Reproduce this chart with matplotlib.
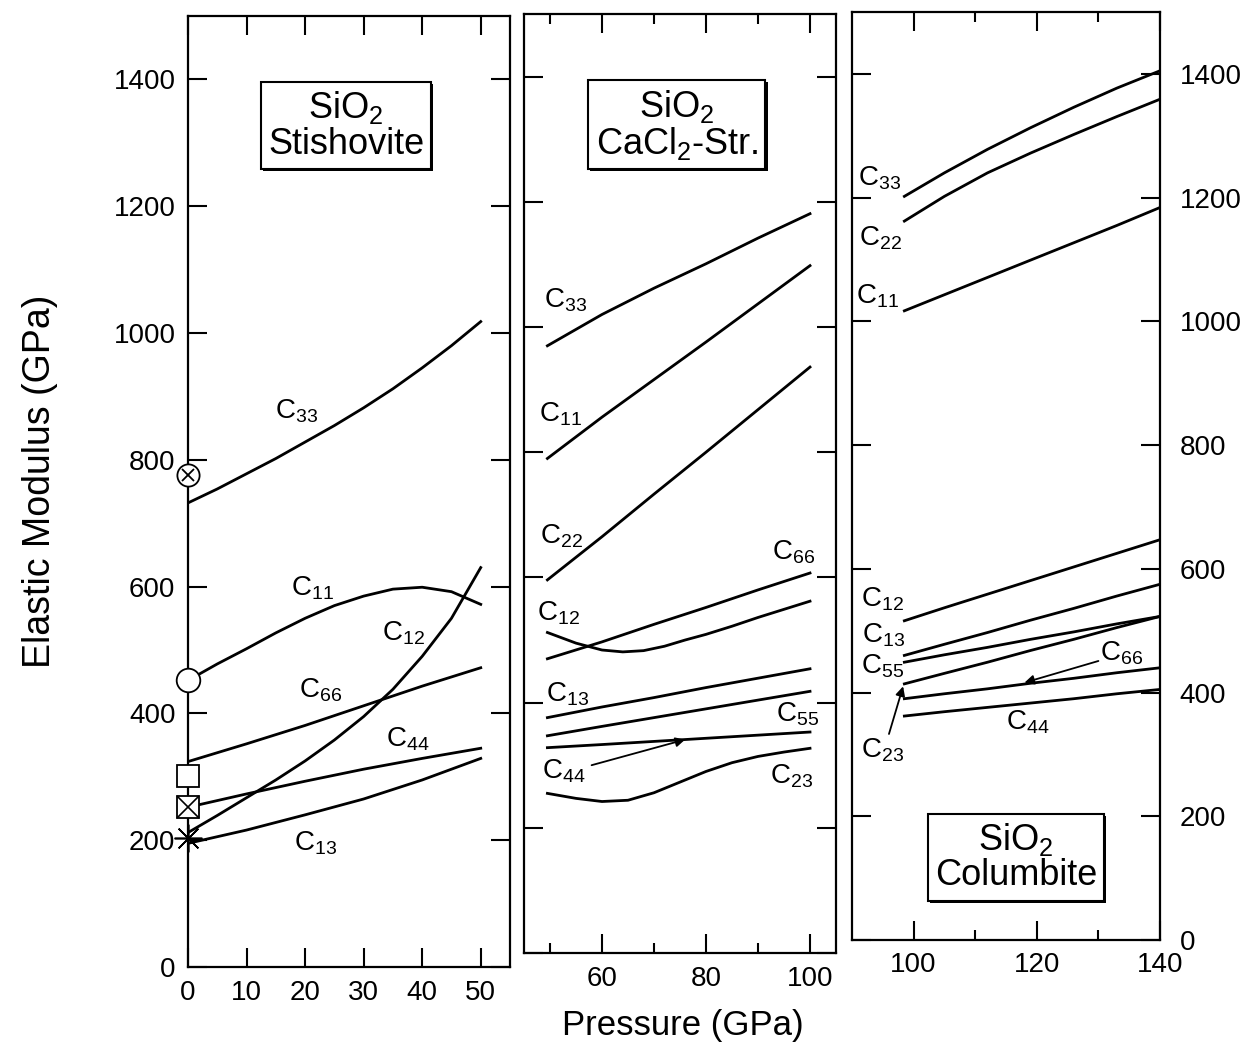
"""Elastic moduli of SiO2 phases vs. pressure (three panels, scanned-figure style)."""

import matplotlib

matplotlib.use("Agg")
import matplotlib.pyplot as plt
import matplotlib.patheffects as pe

plt.rcParams["font.family"] = ["Liberation Sans", "DejaVu Sans"]
plt.rcParams["mathtext.fontset"] = "custom"
plt.rcParams["mathtext.rm"] = "Liberation Sans"
plt.rcParams["mathtext.it"] = "Liberation Sans:italic"
plt.rcParams["mathtext.bf"] = "Liberation Sans:bold"

# ---- data: stishovite (0-50 GPa) ----
st_p = [0, 5, 10, 15, 20, 25, 30, 35, 40, 45, 50]
st_c33 = [732, 754, 778, 802, 828, 854, 882, 912, 945, 980, 1018]
st_c11 = [452, 478, 502, 527, 550, 570, 585, 596, 599, 592, 572]
st_c12 = [212, 239, 267, 295, 325, 358, 395, 438, 490, 550, 630]
st_p2 = [0, 10, 20, 30, 40, 50]
st_c66 = [324, 352, 381, 412, 443, 472]
st_c44 = [252, 273, 293, 312, 329, 345]
st_c13 = [195, 216, 240, 265, 295, 329]
# experimental points at 0 GPa
exp_c33, exp_c11, exp_c66, exp_c44, exp_c12 = 776, 453, 302, 252, 203

# ---- data: CaCl2 structure (~50-100 GPa) ----
ca_p = [49.5, 60, 70, 80, 90, 100]
ca_c33 = [970, 1020, 1062, 1101, 1142, 1181]
ca_c11 = [790, 856, 916, 976, 1037, 1098]
ca_c22 = [596, 665, 733, 800, 868, 936]
ca_c66 = [470, 497, 525, 552, 580, 607]
ca_c13 = [376, 393, 408, 424, 439, 454]
ca_c55 = [347, 362, 376, 390, 404, 418]
ca_c44 = [328, 333, 338, 343, 348, 353]
ca_p12 = [49.5, 55, 60, 64, 68, 72, 76, 80, 85, 90, 95, 100]
ca_c12 = [512, 495, 484, 481, 483, 490, 500, 509, 522, 536, 549, 562]
ca_p23 = [49.5, 55, 60, 65, 70, 75, 80, 85, 90, 95, 100]
ca_c23 = [255, 247, 242, 244, 256, 273, 290, 304, 314, 321, 327]

# ---- data: columbite (~98-140 GPa) ----
co_p = [98.5, 105, 112, 119, 126, 133, 140]
co_c33 = [1202, 1240, 1278, 1313, 1346, 1377, 1405]
co_c22 = [1162, 1202, 1240, 1272, 1302, 1331, 1359]
co_c11 = [1017, 1043, 1071, 1099, 1127, 1155, 1184]
co_c12 = [516, 537, 559, 581, 603, 625, 647]
co_c13 = [460, 478, 497, 517, 536, 556, 575]
co_c55 = [449, 461, 473, 486, 498, 511, 523]
co_c23 = [414, 431, 449, 468, 486, 505, 523]
co_c66 = [390, 398, 406, 415, 423, 432, 440]
co_c44 = [362, 369, 376, 383, 390, 398, 405]

y_ticks = [0, 200, 400, 600, 800, 1000, 1200, 1400]

W, H = 1242, 1047
fig = plt.figure(figsize=(W / 100, H / 100), dpi=100)
LW = 2.0
FS = 20


def add_panel(left, right, top, bottom):
    return fig.add_axes([left / W, 1 - bottom / H, (right - left) / W, (bottom - top) / H])


def style(ax, xlim, major, labels, minor):
    ax.set_xlim(*xlim)
    ax.set_ylim(0, 1500)
    ax.set_yticks(y_ticks)
    ax.set_xticks(major, labels)
    ax.set_xticks(minor, minor=True)
    ax.tick_params(which="both", direction="in", top=True, right=True, width=1.5,
                   labelsize=FS, labelleft=False, pad=9)
    ax.tick_params(which="major", length=14)
    ax.tick_params(which="minor", length=7)
    for s in ax.spines.values():
        s.set_linewidth(1.6)


def label(ax, x, y, sub):
    ax.text(x, y, "C$_{%s}$" % sub, fontsize=FS, ha="center", va="center")


def phase_box(ax, x, y, text):
    t = ax.text(x, y, text, fontsize=26, ha="center", va="center", linespacing=1.02,
                multialignment="center", zorder=6,
                bbox=dict(boxstyle="square,pad=0.2", fc="white", ec="black", lw=1.5))
    t.get_bbox_patch().set_path_effects(
        [pe.SimplePatchShadow(offset=(1.5, -1.5), shadow_rgbFace="black", alpha=1), pe.Normal()])


def arrow(ax, tail, tip):
    ax.annotate("", xy=tip, xytext=tail,
                arrowprops=dict(arrowstyle="-|>", lw=1.3, color="black",
                                mutation_scale=14, shrinkA=0, shrinkB=0))


# ---- panel 1: stishovite ----
ax1 = add_panel(188, 510, 16, 967)
style(ax1, (0, 55), [0, 10, 20, 30, 40, 50], ["0", "10", "20", "30", "40", "50"], [])
ax1.tick_params(axis="y", labelleft=True)
for ys, p in [(st_c33, st_p), (st_c11, st_p), (st_c12, st_p),
              (st_c66, st_p2), (st_c44, st_p2), (st_c13, st_p2)]:
    ax1.plot(p, ys, color="black", lw=LW)
mk = dict(color="black", clip_on=False, zorder=7, mfc="white", mec="black", mew=1.3, ls="none")
ax1.plot([0], [exp_c33], marker="o", ms=16, **mk)
ax1.plot([0], [exp_c33], marker="x", ms=9, color="black", mew=1.3, clip_on=False, zorder=8)
ax1.plot([0], [exp_c11], marker="o", ms=17, **mk)
ax1.plot([0], [exp_c66], marker="s", ms=16, **mk)
ax1.plot([0], [exp_c44], marker="s", ms=16, **mk)
ax1.plot([0], [exp_c44], marker="x", ms=16, color="black", mew=1.2, clip_on=False, zorder=8)
ax1.plot([0], [exp_c12], marker=(8, 2, 0), ms=20, color="black", mew=1.2, clip_on=False, zorder=8)
label(ax1, 18.5, 876, "33")
label(ax1, 21.2, 598, "11")
label(ax1, 36.8, 526, "12")
label(ax1, 22.6, 437, "66")
label(ax1, 37.5, 359, "44")
label(ax1, 21.8, 195, "13")
phase_box(ax1, 27.0, 1327, "SiO$_2$\nStishovite")

# ---- panel 2: CaCl2 structure ----
ax2 = add_panel(524, 836, 14, 953)
style(ax2, (45, 105), [60, 80, 100], ["60", "80", "100"], [50, 70, 90])
for ys, p in [(ca_c33, ca_p), (ca_c11, ca_p), (ca_c22, ca_p), (ca_c66, ca_p),
              (ca_c13, ca_p), (ca_c55, ca_p), (ca_c44, ca_p),
              (ca_c12, ca_p12), (ca_c23, ca_p23)]:
    ax2.plot(p, ys, color="black", lw=LW)
label(ax2, 53, 1042, "33")
label(ax2, 52, 861, "11")
label(ax2, 52.3, 665, "22")
label(ax2, 96.8, 640, "66")
label(ax2, 51.6, 543, "12")
label(ax2, 53.3, 414, "13")
label(ax2, 97.7, 381, "55")
label(ax2, 52.6, 291, "44")
label(ax2, 96.5, 282, "23")
arrow(ax2, (58, 300), (76, 341))
phase_box(ax2, 74.4, 1323, "SiO$_2$\nCaCl$_2$-Str.")

# ---- panel 3: columbite ----
ax3 = add_panel(852, 1160, 12, 940)
style(ax3, (90, 140), [100, 120, 140], ["100", "120", "140"], [110, 130])
ax3.tick_params(axis="y", labelright=True, pad=14)
for ys in [co_c33, co_c22, co_c11, co_c12, co_c13, co_c55, co_c23, co_c66, co_c44]:
    ax3.plot(co_p, ys, color="black", lw=LW)
label(ax3, 94.4, 1231, "33")
label(ax3, 94.6, 1134, "22")
label(ax3, 94.1, 1041, "11")
label(ax3, 94.9, 551, "12")
label(ax3, 95.1, 492, "13")
label(ax3, 95.0, 442, "55")
label(ax3, 94.9, 307, "23")
label(ax3, 118.5, 352, "44")
label(ax3, 133.8, 464, "66")
arrow(ax3, (130, 451), (118, 416))
arrow(ax3, (96, 333), (98.3, 410))
phase_box(ax3, 116.6, 134, "SiO$_2$\nColumbite")

fig.text(683 / W, 1 - 1025 / H, "Pressure (GPa)", fontsize=25, ha="center", va="center")
fig.text(40 / W, 1 - 481 / H, "Elastic Modulus (GPa)", fontsize=27, rotation=90,
         ha="center", va="center")

fig.savefig("out.png", dpi=100)
